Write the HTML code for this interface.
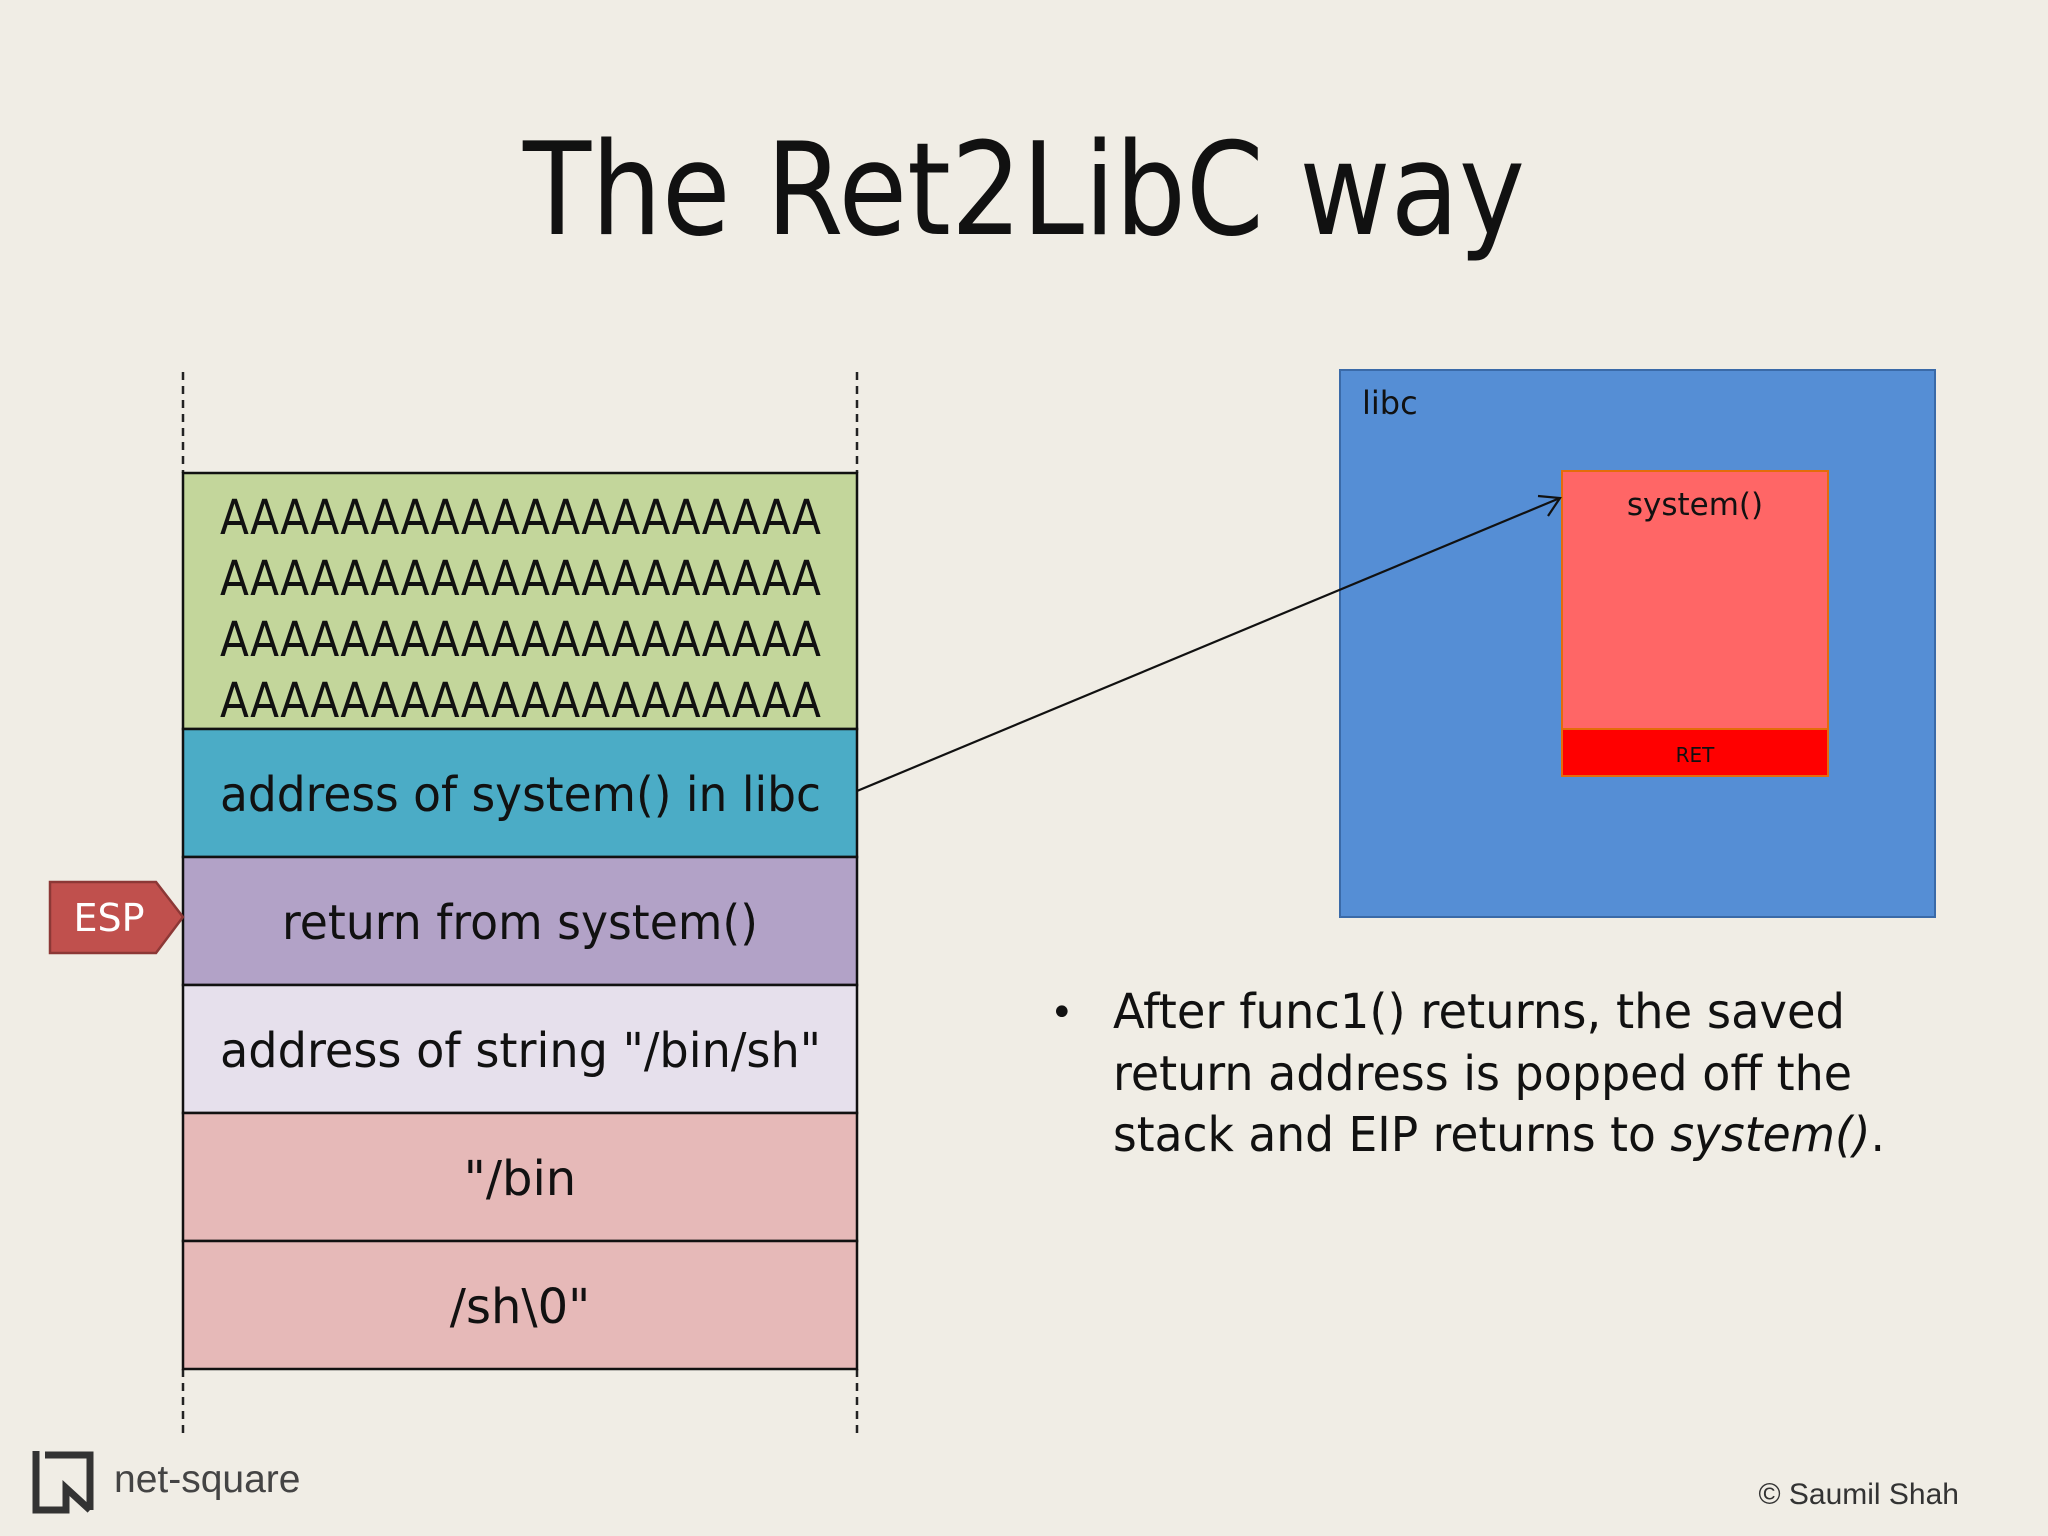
<!DOCTYPE html>
<html><head><meta charset="utf-8"><style>html,body{margin:0;padding:0;background:#f0ede5}svg{display:block}</style></head>
<body>
<svg width="2048" height="1536" viewBox="0 0 2048 1536" xmlns="http://www.w3.org/2000/svg" font-family="DejaVu Sans, Liberation Sans, sans-serif">
<rect width="2048" height="1536" fill="#f0ede5"/>
<text x="1024" y="234" font-size="128" text-anchor="middle" fill="#111" textLength="1002" lengthAdjust="spacingAndGlyphs">The Ret2LibC way</text>
<g stroke="#222" stroke-width="2.5" stroke-dasharray="8,6">
<line x1="183" y1="372" x2="183" y2="473"/><line x1="857" y1="372" x2="857" y2="473"/>
<line x1="183" y1="1369" x2="183" y2="1437"/><line x1="857" y1="1369" x2="857" y2="1437"/>
</g>
<g stroke="#111" stroke-width="2.5">
<rect x="183" y="473" width="674" height="256" fill="#c3d69b"/>
<rect x="183" y="729" width="674" height="128" fill="#4bacc6"/>
<rect x="183" y="857" width="674" height="128" fill="#b2a2c7"/>
<rect x="183" y="985" width="674" height="128" fill="#e6e0ec"/>
<rect x="183" y="1113" width="674" height="128" fill="#e6b9b8"/>
<rect x="183" y="1241" width="674" height="128" fill="#e6b9b8"/>
</g>
<g font-size="48" fill="#111">
<text x="220" y="534" textLength="601" lengthAdjust="spacingAndGlyphs">AAAAAAAAAAAAAAAAAAAA</text>
<text x="220" y="595" textLength="601" lengthAdjust="spacingAndGlyphs">AAAAAAAAAAAAAAAAAAAA</text>
<text x="220" y="656" textLength="601" lengthAdjust="spacingAndGlyphs">AAAAAAAAAAAAAAAAAAAA</text>
<text x="220" y="717" textLength="601" lengthAdjust="spacingAndGlyphs">AAAAAAAAAAAAAAAAAAAA</text>
<text x="220" y="811" textLength="601" lengthAdjust="spacingAndGlyphs">address of system() in libc</text>
<text x="520" y="939" text-anchor="middle" textLength="476" lengthAdjust="spacingAndGlyphs">return from system()</text>
<text x="220" y="1067" textLength="601" lengthAdjust="spacingAndGlyphs">address of string "/bin/sh"</text>
<text x="520" y="1195" text-anchor="middle">"/bin</text>
<text x="520" y="1323" text-anchor="middle">/sh\0"</text>
</g>
<polygon points="50,882 156,882 183,917 156,953 50,953" fill="#c0504d" stroke="#8c3836" stroke-width="2.5"/>
<text x="109" y="931" font-size="38" fill="#fff" text-anchor="middle">ESP</text>
<rect x="1340" y="370" width="595" height="547" fill="#558ed5" stroke="#3a6aa8" stroke-width="2"/>
<text x="1362" y="414" font-size="32" fill="#111">libc</text>
<rect x="1562" y="471" width="266" height="258" fill="#ff6666" stroke="#e46c0a" stroke-width="2"/>
<rect x="1562" y="729" width="266" height="47" fill="#ff0000" stroke="#e46c0a" stroke-width="2"/>
<text x="1695" y="515" font-size="31" fill="#111" text-anchor="middle">system()</text>
<text x="1695" y="762" font-size="20" fill="#111" text-anchor="middle">RET</text>
<line x1="857" y1="791" x2="1560" y2="498" stroke="#111" stroke-width="2.2"/>
<polyline points="1538,496 1560,498 1548,516" fill="none" stroke="#111" stroke-width="2.2"/>
<g font-size="48" fill="#111">
<text x="1050" y="1026" font-size="40">•</text>
<text x="1113" y="1028" textLength="732" lengthAdjust="spacingAndGlyphs">After func1() returns, the saved</text>
<text x="1113" y="1090" textLength="739" lengthAdjust="spacingAndGlyphs">return address is popped off the</text>
<text x="1113" y="1151" textLength="772" lengthAdjust="spacingAndGlyphs">stack and EIP returns to <tspan font-style="italic">system()</tspan>.</text>
</g>
<path d="M36,1451 L36,1510 L66,1510 L66,1488 L90,1510 M45,1455 L90,1455 L90,1510" fill="none" stroke="#333" stroke-width="7"/>
<text x="114" y="1492" font-family="Liberation Sans, sans-serif" font-size="39" fill="#444">net-square</text>
<text x="1959" y="1504" font-family="Liberation Sans, sans-serif" font-size="30" fill="#333" text-anchor="end">© Saumil Shah</text>
</svg>
</body></html>
